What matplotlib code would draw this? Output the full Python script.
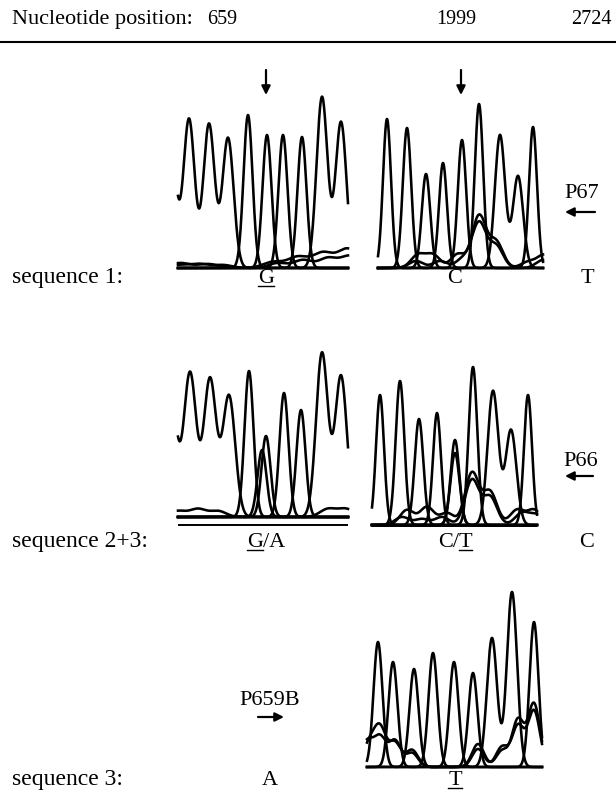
import numpy as np
import matplotlib.pyplot as plt

plt.rcParams['font.family'] = ['Liberation Serif', 'DejaVu Serif']

FIG_W, FIG_H, DPI = 616, 792, 100
FS = 16
FS_NUM = 14.5
FS_SEQ = 17
LW = 1.85

# peak tables: scan offset in the window, signal height
# sequence 1, around 659
s1l_a_pos = [-8, 11, 31, 50];  s1l_a_amp = [140, 149, 144, 130]
s1l_b_pos = [70, 124];         s1l_b_amp = [153, 131]
s1l_c_pos = [89];              s1l_c_amp = [133]
s1l_d_pos = [105];             s1l_d_amp = [133]
s1l_f_pos = [144, 163];        s1l_f_amp = [171, 146]
s1l_n1_pos = [2, 30, 95, 120, 145, 170];     s1l_n1_amp = [5, 4, 6, 11, 15, 19]
s1l_n2_pos = [2, 22, 45, 100, 125, 150, 172]; s1l_n2_amp = [3, 4, 3, 5, 8, 10, 12]

# sequence 1, around 1999
s1r_a_pos = [9, 65, 155];  s1r_a_amp = [149, 105, 141]
s1r_b_pos = [29, 84];      s1r_b_amp = [140, 128]
s1r_c_pos = [48, 101];     s1r_c_amp = [94, 164]
s1r_d_pos = [122, 140];    s1r_d_amp = [133, 92]
s1r_n1_pos = [40, 55, 80, 101, 118, 150, 166]; s1r_n1_amp = [13, 13, 14, 52, 26, 6, 13]
s1r_n2_pos = [38, 62, 85, 101, 118, 165];      s1r_n2_amp = [7, 7, 9, 45, 22, 8]

# sequence 2+3, around 659
s2l_a_pos = [-8, 12, 32, 51];  s2l_a_amp = [134, 144, 138, 121]
s2l_b_pos = [71, 123];         s2l_b_amp = [146, 107]
s2l_g_pos = [88];              s2l_g_amp = [81]
s2l_x_pos = [84];              s2l_x_amp = [67]
s2l_e_pos = [106];             s2l_e_amp = [124]
s2l_f_pos = [144, 163];        s2l_f_amp = [164, 141]
s2l_n1_pos = [0, 20, 40, 150, 168]; s2l_n1_amp = [6, 8, 6, 8, 8]

# sequence 2+3, around 1999
s2r_a_pos = [8, 65, 156];  s2r_a_amp = [130, 112, 130]
s2r_b_pos = [28, 83];      s2r_b_amp = [144, 85]
s2r_c_pos = [47, 101];     s2r_c_amp = [106, 158]
s2r_d_pos = [121, 139];    s2r_d_amp = [134, 95]
s2r_t_pos = [83];          s2r_t_amp = [72]
s2r_n1_pos = [35, 55, 75, 100, 118, 145, 162]; s2r_n1_amp = [15, 18, 12, 52, 33, 15, 15]
s2r_n2_pos = [30, 50, 70, 100, 118, 150, 165]; s2r_n2_amp = [8, 6, 8, 45, 28, 12, 10]

# sequence 3, around 1999
s3_a_pos = [11, 66];        s3_a_amp = [125, 114]
s3_b_pos = [26, 87];        s3_b_amp = [105, 105]
s3_c_pos = [47, 106, 167];  s3_c_amp = [98, 94, 145]
s3_d_pos = [125, 145];      s3_d_amp = [129, 175]
s3_n1_pos = [2, 13, 28, 45, 111, 135, 151, 167]; s3_n1_amp = [22, 38, 24, 17, 23, 16, 47, 63]
s3_n2_pos = [0, 13, 28, 45, 111, 135, 151, 167]; s3_n2_amp = [25, 29, 26, 14, 18, 20, 41, 56]


def trace(x, pos, amp, sig):
    y = np.zeros_like(x)
    for p, a in zip(pos, amp):
        y += a * np.exp(-(x - p) ** 2 / (2 * sig ** 2))
    return y


panels = [
    dict(left=178, floor=268, width=170, rule=0, traces=[
        (s1l_a_pos, s1l_a_amp, 5.6), (s1l_b_pos, s1l_b_amp, 4.5),
        (s1l_c_pos, s1l_c_amp, 4.5), (s1l_d_pos, s1l_d_amp, 4.5),
        (s1l_f_pos, s1l_f_amp, 5.5), (s1l_n1_pos, s1l_n1_amp, 10),
        (s1l_n2_pos, s1l_n2_amp, 9)]),
    dict(left=378, floor=268, width=165, rule=0, traces=[
        (s1r_a_pos, s1r_a_amp, 4.0), (s1r_b_pos, s1r_b_amp, 4.2),
        (s1r_c_pos, s1r_c_amp, 4.2), (s1r_d_pos, s1r_d_amp, 5.1),
        (s1r_n1_pos, s1r_n1_amp, 7), (s1r_n2_pos, s1r_n2_amp, 7)]),
    dict(left=178, floor=517, width=170, rule=-8, traces=[
        (s2l_a_pos, s2l_a_amp, 6.2), (s2l_b_pos, s2l_b_amp, 4.5),
        (s2l_g_pos, s2l_g_amp, 4.5), (s2l_x_pos, s2l_x_amp, 4.5),
        (s2l_e_pos, s2l_e_amp, 4.5), (s2l_f_pos, s2l_f_amp, 5.9),
        (s2l_n1_pos, s2l_n1_amp, 8)]),
    dict(left=372, floor=525, width=165, rule=-1, traces=[
        (s2r_a_pos, s2r_a_amp, 4.0), (s2r_b_pos, s2r_b_amp, 4.3),
        (s2r_c_pos, s2r_c_amp, 4.3), (s2r_d_pos, s2r_d_amp, 5.4),
        (s2r_t_pos, s2r_t_amp, 4.5), (s2r_n1_pos, s2r_n1_amp, 7),
        (s2r_n2_pos, s2r_n2_amp, 7)]),
    dict(left=367, floor=767, width=175, rule=0, traces=[
        (s3_a_pos, s3_a_amp, 4.5), (s3_b_pos, s3_b_amp, 4.5),
        (s3_c_pos, s3_c_amp, 4.5), (s3_d_pos, s3_d_amp, 5.1),
        (s3_n1_pos, s3_n1_amp, 6), (s3_n2_pos, s3_n2_amp, 6)]),
]

fig = plt.figure(figsize=(FIG_W / DPI, FIG_H / DPI), dpi=DPI)

# overlay in pixel units for the labels and arrows
ax0 = fig.add_axes([0, 0, 1, 1])
ax0.set_xlim(0, FIG_W)
ax0.set_ylim(FIG_H, 0)
ax0.axis('off')

TOP, PAD = 185, 12
for p in panels:
    rect = [p['left'] / FIG_W, (FIG_H - p['floor'] - PAD) / FIG_H,
            p['width'] / FIG_W, (TOP + PAD) / FIG_H]
    ax = fig.add_axes(rect)
    ax.set_xlim(0, p['width'])
    ax.set_ylim(-PAD, TOP)
    ax.axis('off')
    x = np.linspace(0, p['width'], 800)
    for pos, amp, sig in p['traces']:
        ax.plot(x, trace(x, pos, amp, sig), color='k', lw=LW, clip_on=False,
                solid_joinstyle='round')
    ax.plot([0, p['width']], [p['rule'], p['rule']], color='k', lw=1.4)

# header
ax0.text(12, 24, "Nucleotide position:", fontsize=FS, va='baseline')
ax0.text(222, 24, "659", fontsize=FS_NUM, va='baseline', ha='center')
ax0.text(456, 24, "1999", fontsize=FS_NUM, va='baseline', ha='center')
ax0.text(612, 24, "2724", fontsize=FS_NUM, va='baseline', ha='right')
ax0.plot([0, FIG_W], [42, 42], color='k', lw=1.5)

renderer = fig.canvas.get_renderer()


def width_of(s):
    if not s:
        return 0.0
    t = ax0.text(0, 0, s, fontsize=FS)
    w = t.get_window_extent(renderer).width
    t.remove()
    return w


def base_label(x, y, s, ul=None):
    t = ax0.text(x, y, s, fontsize=FS, va='baseline', ha='center')
    if ul is not None:
        bb = t.get_window_extent(renderer)
        x0 = bb.x0 + width_of(s[:ul[0]])
        x1 = bb.x0 + width_of(s[:ul[1]])
        ax0.plot([x0, x1], [y + 3, y + 3], color='k', lw=1.0)


def arrow(x0, y0, x1, y1):
    ax0.annotate('', xy=(x1, y1), xytext=(x0, y0),
                 arrowprops=dict(arrowstyle='-|>', color='k', lw=1.6,
                                 mutation_scale=13, shrinkA=0, shrinkB=0))


rows = [283, 547, 785]
ax0.text(12, rows[0], "sequence 1:", fontsize=FS_SEQ, va='baseline')
ax0.text(12, rows[1], "sequence 2+3:", fontsize=FS_SEQ, va='baseline')
ax0.text(12, rows[2], "sequence 3:", fontsize=FS_SEQ, va='baseline')

base_label(266, rows[0], "G", (0, 1))
base_label(455, rows[0], "C")
base_label(587, rows[0], "T")
base_label(266, rows[1], "G/A", (0, 1))
base_label(455, rows[1], "C/T", (2, 3))
base_label(587, rows[1], "C")
base_label(270, rows[2], "A")
base_label(455, rows[2], "T", (0, 1))

# mutation markers and primers
arrow(266, 70, 266, 95)
arrow(461, 70, 461, 95)
ax0.text(582, 198, "P67", fontsize=FS, va='baseline', ha='center')
arrow(595, 212, 565, 212)
ax0.text(581, 466, "P66", fontsize=FS, va='baseline', ha='center')
arrow(593, 476, 565, 476)
ax0.text(270, 705, "P659B", fontsize=FS, va='baseline', ha='center')
arrow(258, 717, 284, 717)

fig.savefig("out.png", dpi=DPI)
